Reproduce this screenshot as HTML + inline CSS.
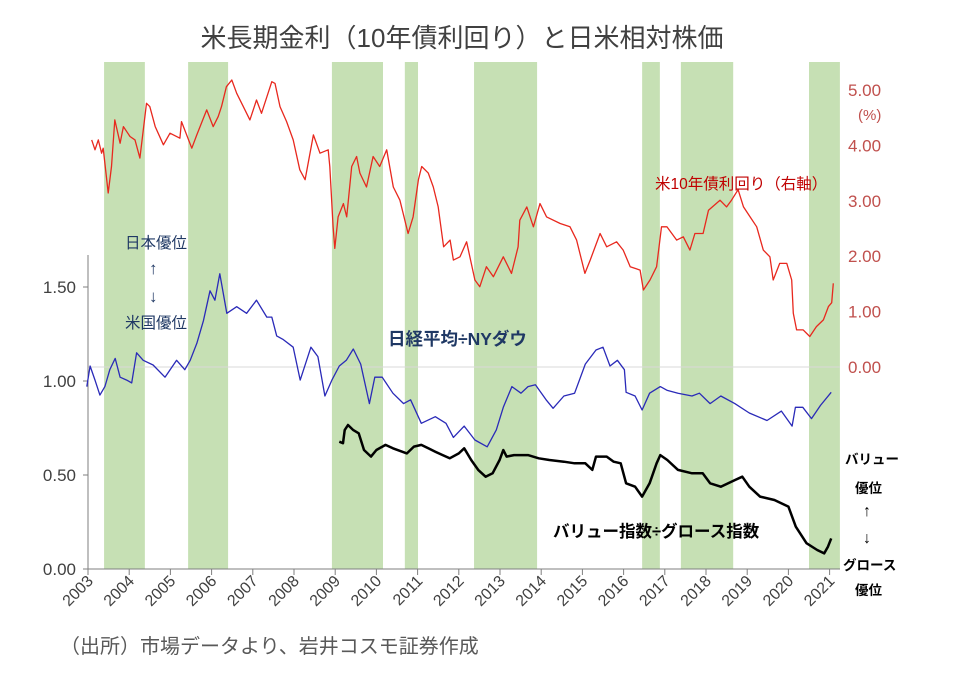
<!DOCTYPE html>
<html><head><meta charset="utf-8">
<style>
body{margin:0;background:#fff;}
svg{display:block;font-family:"Liberation Sans","Noto Sans CJK JP",sans-serif;}
</style></head>
<body>
<svg id="chart" width="960" height="681" viewBox="0 0 960 681" xmlns="http://www.w3.org/2000/svg">
<text x="462" y="47" text-anchor="middle" font-size="26" fill="#404040">米長期金利（10年債利回り）と日米相対株価</text>
<g id="bands"></g>
<line x1="88" y1="367" x2="840" y2="367" stroke="#d9d9d9" stroke-width="1"/>
<line x1="88" y1="255" x2="88" y2="569" stroke="#7f7f7f" stroke-width="1"/>
<line x1="88" y1="569" x2="840" y2="569" stroke="#7f7f7f" stroke-width="1"/>
<g id="xticks"></g>
<g id="lticks"></g>
<g id="rticks"></g>
<text x="858" y="120" font-size="15" fill="#c0504d">(%)</text>
<g id="lines"></g>
<g font-size="15.5">
<text x="125" y="248" fill="#1f3864">日本優位</text>
<text x="149" y="274" fill="#1f3864" font-size="17">↑</text>
<text x="149" y="302" fill="#1f3864" font-size="17">↓</text>
<text x="125" y="328" fill="#1f3864">米国優位</text>
<text x="388" y="345" font-size="17.5" font-weight="bold" fill="#1f3864">日経平均÷NYダウ</text>
<text x="655" y="189" fill="#c00000">米10年債利回り（右軸）</text>
<text x="553" y="537" font-size="16.5" font-weight="bold" fill="#000">バリュー指数÷グロース指数</text>
<text x="845" y="464" font-size="13.5" font-weight="bold" fill="#000">バリュー</text>
<text x="855" y="493" font-size="13.5" font-weight="bold" fill="#000">優位</text>
<text x="863" y="516" font-size="16" fill="#000">↑</text>
<text x="863" y="543" font-size="16" fill="#000">↓</text>
<text x="843" y="570" font-size="13.5" font-weight="bold" fill="#000">グロース</text>
<text x="855" y="595" font-size="13.5" font-weight="bold" fill="#000">優位</text>
</g>
<text x="60" y="653" font-size="20" fill="#595959">（出所）市場データより、岩井コスモ証券作成</text>
</svg>
<script>
const bandStarts=[2003.39,2005.43,2008.92,2010.69,2012.37,2016.45,2017.39,2020.50];
const bandEnds=[2004.38,2006.40,2010.16,2011.01,2013.90,2016.88,2018.66,2021.25];
const years=[2003,2004,2005,2006,2007,2008,2009,2010,2011,2012,2013,2014,2015,2016,2017,2018,2019,2020,2021];
const leftTicks=[0,0.5,1.0,1.5];
const leftTickLabels=["0.00","0.50","1.00","1.50"];
const rightTicks=[0,1,2,3,4,5];
const rightTickLabels=["0.00","1.00","2.00","3.00","4.00","5.00"];
const yieldT=[2003.09,2003.17,2003.25,2003.33,2003.37,2003.49,2003.57,2003.65,2003.78,2003.86,2004.02,2004.14,2004.26,2004.42,2004.50,2004.63,2004.83,2004.99,2005.23,2005.27,2005.52,2005.64,2005.88,2006.04,2006.16,2006.24,2006.36,2006.49,2006.61,2006.77,2006.93,2007.09,2007.21,2007.46,2007.54,2007.66,2007.82,2007.98,2008.14,2008.27,2008.47,2008.63,2008.83,2008.87,2008.95,2008.99,2009.07,2009.20,2009.28,2009.40,2009.52,2009.60,2009.76,2009.92,2010.08,2010.25,2010.41,2010.57,2010.77,2010.89,2011.02,2011.10,2011.26,2011.38,2011.50,2011.63,2011.79,2011.87,2012.03,2012.19,2012.39,2012.51,2012.67,2012.84,2013.08,2013.28,2013.44,2013.48,2013.65,2013.81,2013.97,2014.13,2014.46,2014.70,2014.86,2015.06,2015.19,2015.43,2015.59,2015.83,2015.99,2016.16,2016.40,2016.48,2016.64,2016.80,2016.92,2017.05,2017.29,2017.45,2017.61,2017.73,2017.93,2018.06,2018.34,2018.50,2018.62,2018.78,2018.91,2019.07,2019.23,2019.39,2019.55,2019.63,2019.79,2019.96,2020.08,2020.12,2020.20,2020.36,2020.52,2020.68,2020.85,2020.97,2021.05,2021.09];
const yieldV=[4.10,3.92,4.10,3.86,3.95,3.14,3.62,4.46,4.04,4.34,4.16,4.10,3.77,4.76,4.70,4.34,4.01,4.22,4.13,4.43,3.95,4.19,4.64,4.34,4.52,4.70,5.06,5.18,4.94,4.70,4.46,4.82,4.58,5.15,5.12,4.70,4.43,4.10,3.56,3.38,4.19,3.86,3.92,3.62,2.53,2.14,2.71,2.95,2.71,3.62,3.80,3.50,3.25,3.80,3.62,3.92,3.25,3.01,2.41,2.71,3.38,3.62,3.50,3.25,2.89,2.17,2.29,1.93,1.99,2.26,1.57,1.45,1.81,1.63,1.99,1.69,2.17,2.65,2.89,2.53,2.95,2.71,2.59,2.53,2.29,1.69,1.93,2.41,2.17,2.26,2.11,1.81,1.75,1.39,1.57,1.81,2.53,2.53,2.29,2.35,2.11,2.41,2.41,2.83,3.01,2.89,3.01,3.20,2.89,2.71,2.53,2.11,1.99,1.57,1.87,1.87,1.57,0.97,0.67,0.67,0.55,0.73,0.85,1.09,1.16,1.51];
const nikkeiT=[2002.97,2003.05,2003.17,2003.29,2003.41,2003.53,2003.66,2003.78,2003.94,2004.06,2004.18,2004.34,2004.58,2004.87,2005.15,2005.35,2005.48,2005.64,2005.80,2005.96,2006.08,2006.20,2006.37,2006.61,2006.85,2007.09,2007.34,2007.46,2007.58,2007.74,2007.98,2008.15,2008.41,2008.58,2008.75,2008.92,2009.10,2009.27,2009.44,2009.62,2009.83,2009.96,2010.14,2010.40,2010.66,2010.83,2011.09,2011.43,2011.69,2011.87,2012.13,2012.39,2012.69,2012.91,2013.08,2013.29,2013.51,2013.68,2013.86,2014.12,2014.29,2014.55,2014.81,2015.07,2015.33,2015.50,2015.67,2015.85,2016.02,2016.06,2016.28,2016.45,2016.63,2016.89,2017.06,2017.32,2017.66,2017.84,2018.10,2018.36,2018.70,2019.05,2019.48,2019.83,2020.09,2020.17,2020.35,2020.56,2020.78,2021.04];
const nikkeiV=[0.97,1.08,1.005,0.925,0.97,1.06,1.12,1.02,1.005,0.99,1.15,1.11,1.085,1.02,1.11,1.06,1.11,1.20,1.32,1.48,1.43,1.57,1.36,1.395,1.36,1.43,1.34,1.34,1.24,1.22,1.18,1.005,1.18,1.13,0.92,1.005,1.08,1.11,1.17,1.09,0.88,1.02,1.02,0.935,0.88,0.90,0.775,0.81,0.775,0.70,0.76,0.686,0.65,0.74,0.86,0.97,0.935,0.97,0.98,0.90,0.855,0.92,0.935,1.09,1.165,1.18,1.08,1.11,1.06,0.94,0.92,0.846,0.935,0.97,0.95,0.935,0.92,0.935,0.88,0.92,0.88,0.83,0.79,0.84,0.76,0.86,0.86,0.80,0.87,0.94];
const valueT=[2009.10,2009.19,2009.23,2009.31,2009.44,2009.57,2009.70,2009.87,2010.00,2010.22,2010.40,2010.74,2010.91,2011.09,2011.26,2011.43,2011.61,2011.78,2012.00,2012.13,2012.30,2012.47,2012.65,2012.82,2012.99,2013.08,2013.16,2013.34,2013.68,2013.94,2014.20,2014.55,2014.81,2015.07,2015.24,2015.33,2015.59,2015.76,2015.93,2016.06,2016.28,2016.45,2016.63,2016.80,2016.89,2017.06,2017.32,2017.66,2017.92,2018.10,2018.36,2018.70,2018.88,2019.05,2019.31,2019.66,2020.00,2020.18,2020.44,2020.70,2020.87,2020.96,2021.04];
const valueV=[0.677,0.669,0.739,0.766,0.739,0.722,0.633,0.598,0.633,0.66,0.642,0.615,0.651,0.66,0.642,0.624,0.606,0.589,0.615,0.642,0.58,0.527,0.491,0.509,0.58,0.633,0.598,0.606,0.606,0.589,0.58,0.571,0.562,0.562,0.527,0.598,0.598,0.571,0.562,0.456,0.438,0.385,0.456,0.562,0.606,0.58,0.527,0.509,0.509,0.456,0.438,0.473,0.491,0.438,0.385,0.367,0.332,0.225,0.137,0.101,0.083,0.119,0.163];

const NS='http://www.w3.org/2000/svg';
function xS(t){return 88+(t-2003)*41.2;}
function yL(v){return 569-v*188;}
function yR(v){return 367-v*55.4;}
function mk(tag,attrs,parent){const e=document.createElementNS(NS,tag);for(const k in attrs)e.setAttribute(k,attrs[k]);parent.appendChild(e);return e;}

const bandsG=document.getElementById('bands');
bandStarts.forEach((s,i)=>{
  const r=mk('rect',{x:xS(s),y:62,width:xS(bandEnds[i])-xS(s),height:507,fill:'#c6e0b4'},bandsG);
  
  
});
const xt=document.getElementById('xticks');
years.forEach(y=>{
  const x=xS(y);
  const l=mk('line',{x1:x,y1:569,x2:x,y2:575,stroke:'#7f7f7f'},xt);
  
  
  const t=mk('text',{x:x+6,y:582,'text-anchor':'end','font-size':16,fill:'#404040',transform:`rotate(-45 ${x+6} 582)`},xt);
  
  
  t.textContent=y;
});
const lt=document.getElementById('lticks');
leftTicks.forEach((v,i)=>{
  const y=yL(v);
  const l=mk('line',{x1:83,y1:y,x2:88,y2:y,stroke:'#7f7f7f'},lt);
  
  
  const t=mk('text',{x:76,y:y+6,'text-anchor':'end','font-size':17,fill:'#404040'},lt);
  
  
  t.textContent=leftTickLabels[i];
});
const rt=document.getElementById('rticks');
rightTicks.forEach((v,i)=>{
  const t=mk('text',{x:848,y:yR(v)+6,'font-size':17,fill:'#c0504d'},rt);
  
  
  t.textContent=rightTickLabels[i];
});
const lg=document.getElementById('lines');
function path(ts,vs,yf){return ts.map((t,i)=>(i?'L':'M')+xS(t).toFixed(1)+' '+yf(vs[i]).toFixed(1)).join(' ');}
const p1=mk('path',{d:path(yieldT,yieldV,yR),fill:'none',stroke:'#e8281e','stroke-width':1.3,'stroke-linejoin':'round'},lg);


const p2=mk('path',{d:path(nikkeiT,nikkeiV,yL),fill:'none',stroke:'#2a2ab8','stroke-width':1.3,'stroke-linejoin':'round'},lg);


const p3=mk('path',{d:path(valueT,valueV,yL),fill:'none',stroke:'#000','stroke-width':2.5,'stroke-linejoin':'round'},lg);


</script>
</body></html>
